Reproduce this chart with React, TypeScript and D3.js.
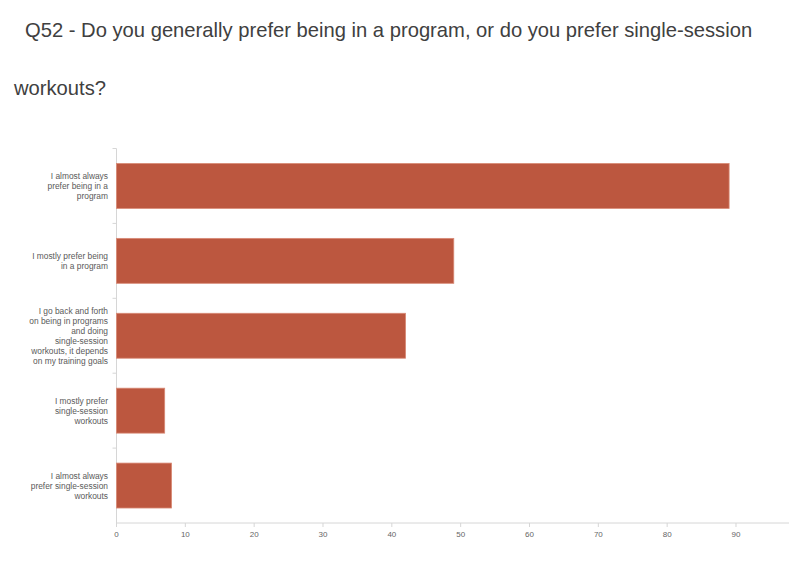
import React from "react";
import * as d3 from "d3";

const categories: string[][] = [
  ["I almost always", "prefer being in a", "program"],
  ["I mostly prefer being", "in a program"],
  ["I go back and forth", "on being in programs", "and doing", "single-session", "workouts, it depends", "on my training goals"],
  ["I mostly prefer", "single-session", "workouts"],
  ["I almost always", "prefer single-session", "workouts"],
];
const values: number[] = [89, 49, 42, 7, 8];
const xTicks: number[] = [0, 10, 20, 30, 40, 50, 60, 70, 80, 90];

const W = 801;
const H = 565;
const left = 116.5;
const right = 789;
const top = 148.5;
const bottom = 523;

export default function App() {
  const x = d3.scaleLinear().domain([0, 97.7]).range([left, right]);
  const ids = categories.map((_, i) => i);
  const y = d3.scaleBand<number>().domain(ids).range([top, bottom]).paddingInner(0.4).paddingOuter(0.2);
  const step = y.step();
  const font = "'Liberation Sans', Arial, sans-serif";
  return (
    <div style={{ margin: -8 }}>
      <svg width={W} height={H} style={{ display: "block" }}>
        <rect width={W} height={H} fill="#fff" />
        <text x={25} y={37} fontFamily={font} fontSize={20.2} fill="#404040">
          Q52 - Do you generally prefer being in a program, or do you prefer single-session
        </text>
        <text x={14} y={95} fontFamily={font} fontSize={20.2} fill="#404040">
          workouts?
        </text>
        {/* y axis */}
        <line x1={left} x2={left} y1={top} y2={bottom} stroke="#d6d6d6" />
        {ids.map((i) => (
          <line key={"yt" + i} x1={left - 4} x2={left} y1={top + i * step} y2={top + i * step} stroke="#d6d6d6" />
        ))}
        {/* x axis */}
        <line x1={left} x2={right} y1={bottom} y2={bottom} stroke="#d6d6d6" />
        {xTicks.map((t) => (
          <g key={"xt" + t}>
            <line x1={x(t)} x2={x(t)} y1={bottom} y2={bottom + 4} stroke="#d6d6d6" />
            <text x={x(t)} y={537} textAnchor="middle" fontFamily={font} fontSize={8} fill="#666">
              {t}
            </text>
          </g>
        ))}
        {/* bars */}
        {values.map((v, i) => (
          <rect
            key={"b" + i}
            x={x(0)}
            y={y(i)!}
            width={x(v) - x(0)}
            height={y.bandwidth()}
            fill="#BC573F"
            stroke="#D98A76"
            strokeWidth={0.8}
          />
        ))}
        {/* labels */}
        {categories.map((lines, i) => {
          const cy = y(i)! + y.bandwidth() / 2;
          const lh = 10;
          const start = cy - ((lines.length - 1) * lh) / 2;
          return (
            <text key={"l" + i} textAnchor="end" fontFamily={font} fontSize={8.4} fill="#5a5a5a">
              {lines.map((s, j) => (
                <tspan key={j} x={108} y={start + j * lh + 3}>
                  {s}
                </tspan>
              ))}
            </text>
          );
        })}
      </svg>
    </div>
  );
}
